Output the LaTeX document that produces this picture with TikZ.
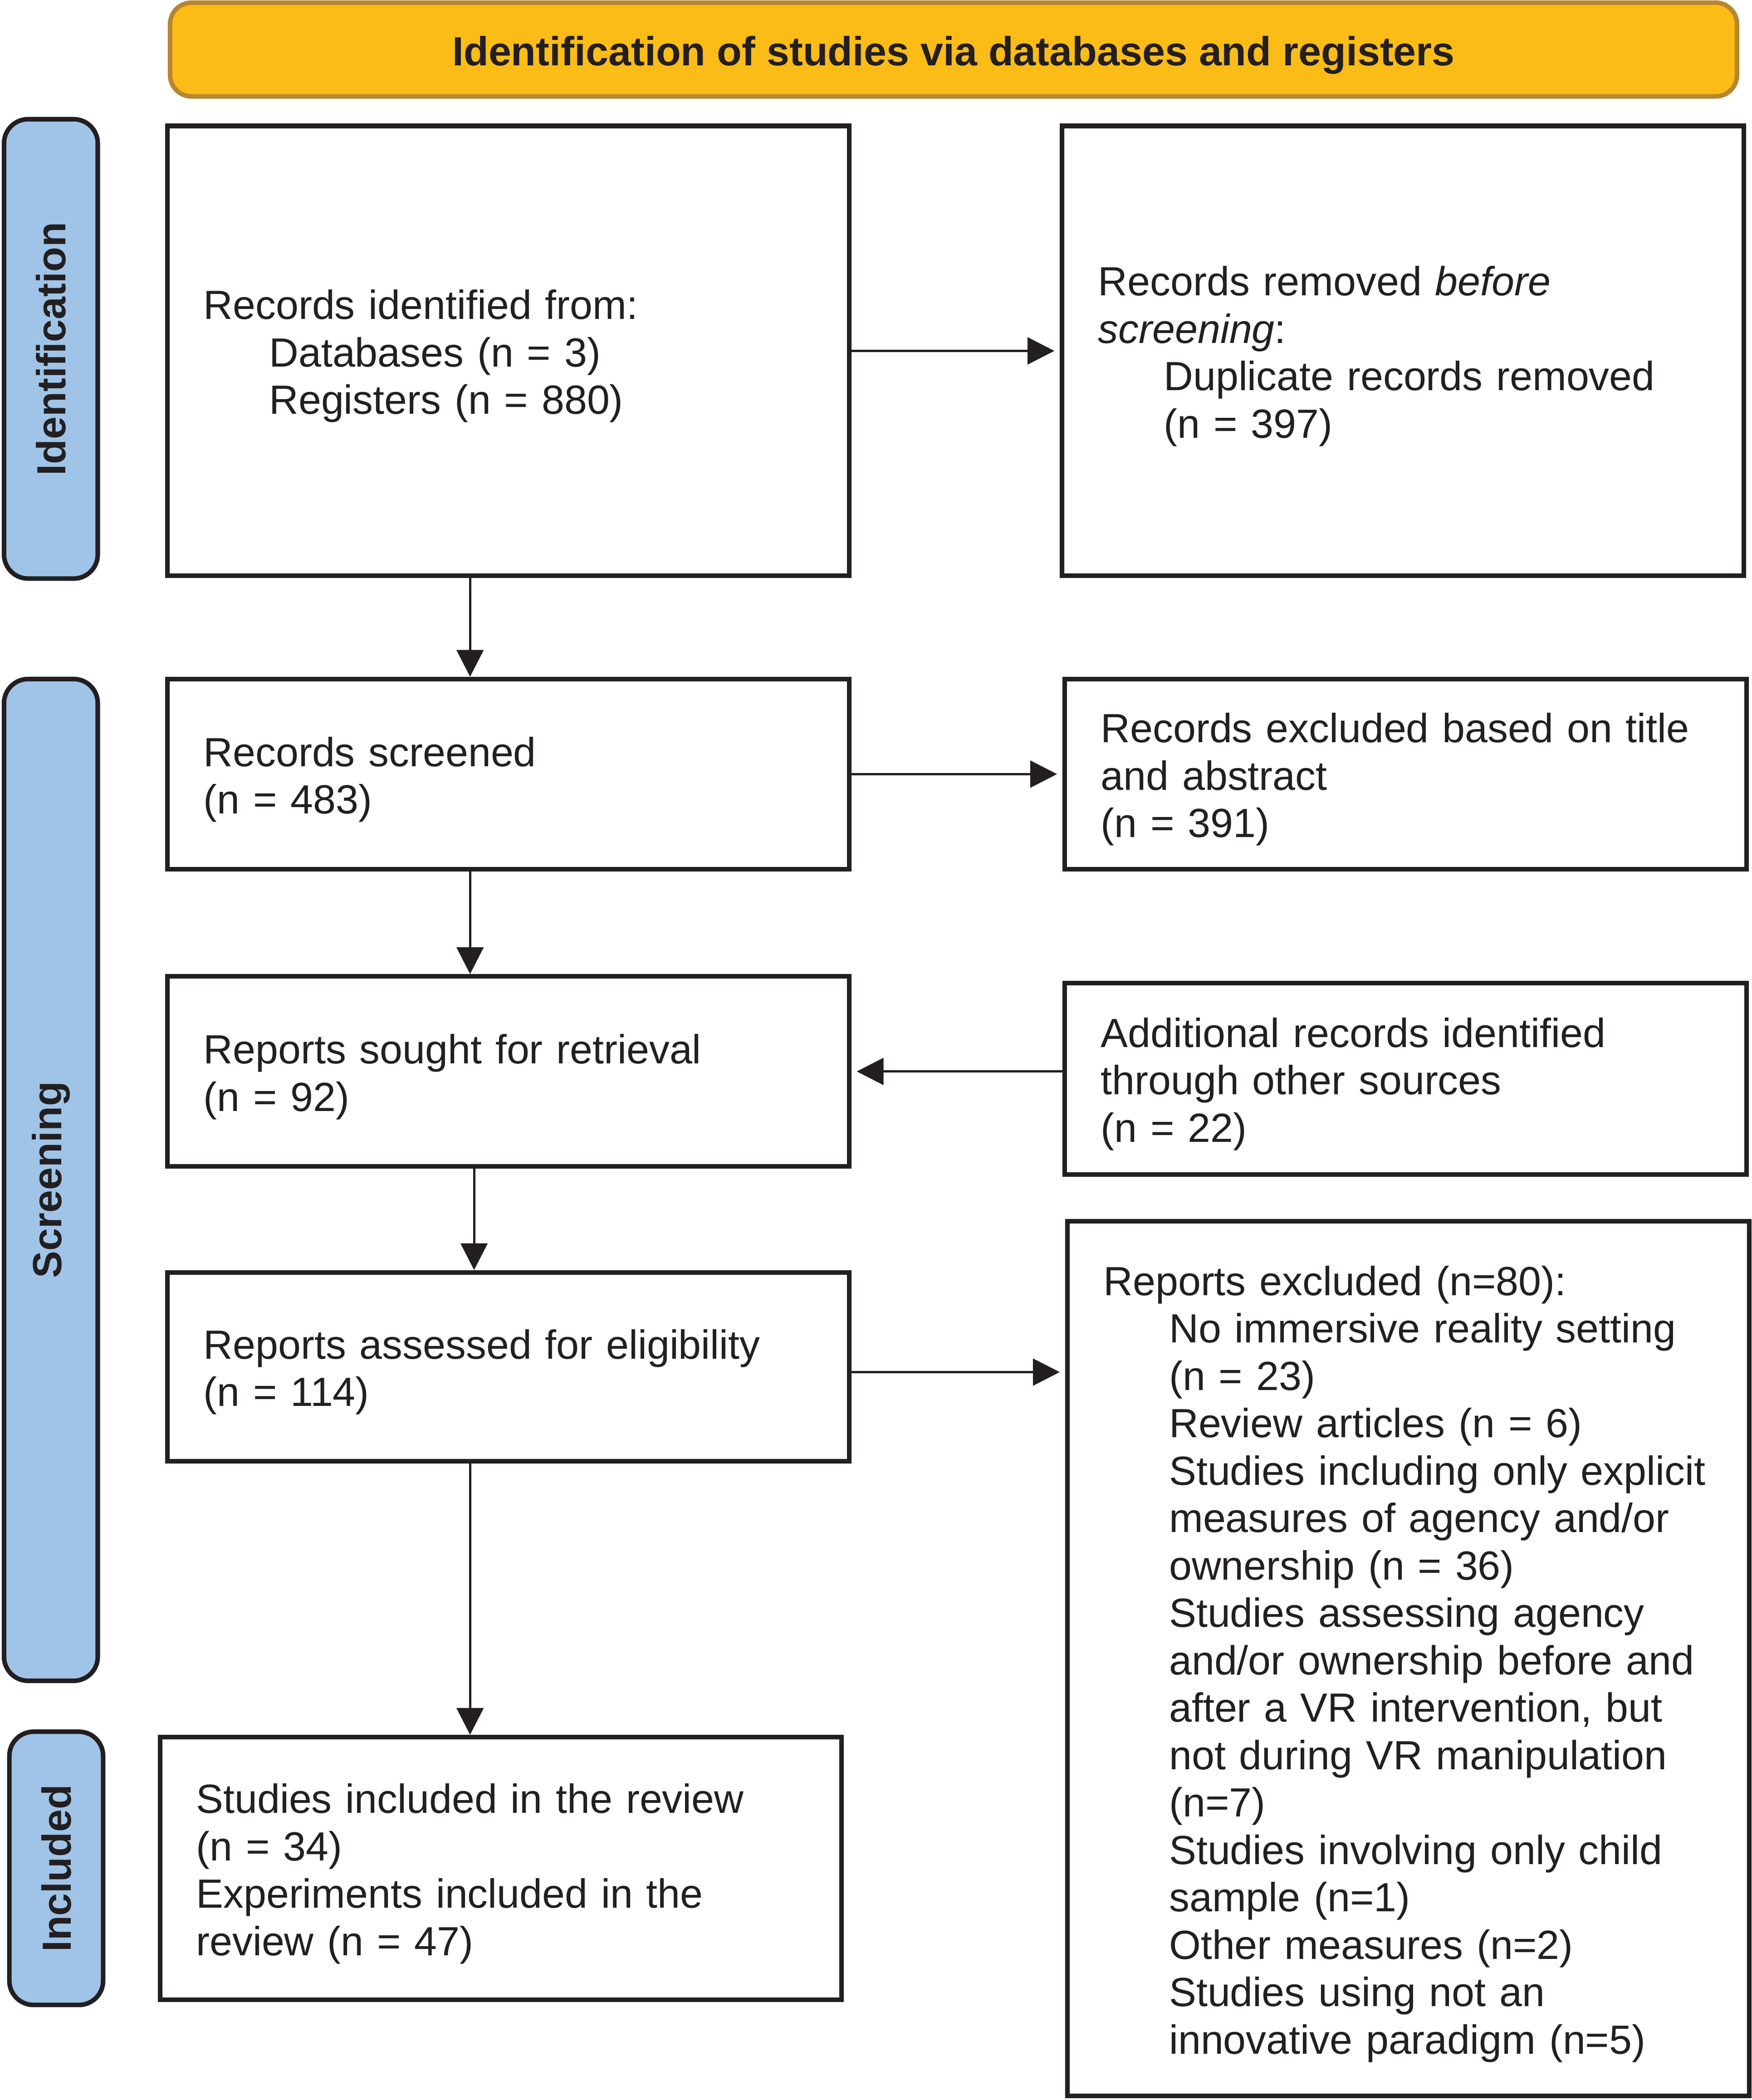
\documentclass[tikz,border=0pt]{standalone}
\usepackage{fontspec}
\setmainfont{Liberation Sans}
\usetikzlibrary{arrows.meta}

\definecolor{ink}{HTML}{231F20}
\definecolor{banner}{HTML}{FBBC18}
\definecolor{bannerline}{HTML}{B8862E}
\definecolor{phase}{HTML}{9FC4E7}
\newcommand{\prismafont}{\fontsize{15.2}{17.7}\selectfont}
\newcommand{\ind}{\hspace*{24.5pt}}

\tikzset{
  box/.style={draw=ink, line width=1.7pt, text=ink, text width=227.5pt,
    inner xsep=13.5pt, align=left, font=\prismafont,
    execute at begin node={\rule{0pt}{15pt}}},
  phasebar/.style={draw=ink, fill=phase, line width=1.7pt, rounded corners=9pt,
    rotate=90, minimum height=35pt, text=ink, font=\prismafont\bfseries},
  arr/.style={-{Triangle[length=10pt,width=10pt]}, line width=0.85pt, draw=ink},
  harr/.style={arr, shorten >=2pt}
}

\begin{document}
\begin{tikzpicture}[x=0.5pt,y=-0.5pt]
\useasboundingbox (0,0) rectangle (1308,1568);

% banner and phases
\node[draw=bannerline, fill=banner, line width=1.7pt, rounded corners=8pt,
  minimum width=585pt, minimum height=35pt, text height=15pt, text depth=3pt,
  text=ink, font=\prismafont\bfseries]
  (banner) at (712,37) {Identification of studies via databases and registers};
\node[phasebar, minimum width=171.5pt] (phaseid) at (38,260.5) {Identification};
\node[phasebar, minimum width=374pt] (phasescr) at (38,881) {Screening};
\node[phasebar, minimum width=102pt] (phaseinc) at (42,1395) {Included};

% boxes
\node[box, minimum height=168pt] (identified) at (379.5,262)
  {Records identified from:\\ \ind Databases (n = 3)\\ \ind Registers (n = 880)};
\node[box, minimum height=168pt] (removed) at (1047.5,262)
  {Records removed \textit{before}\\ \textit{screening}:\\ \ind Duplicate records removed\\ \ind (n = 397)};
\node[box, minimum height=71pt] (screened) at (379.5,578)
  {Records screened\\ (n = 483)};
\node[box, minimum height=71pt] (excluded) at (1049.5,578)
  {Records excluded based on title\\ and abstract\\ (n = 391)};
\node[box, minimum height=71pt] (sought) at (379.5,800)
  {Reports sought for retrieval\\ (n = 92)};
\node[box, minimum height=71.5pt] (additional) at (1049.5,805.5)
  {Additional records identified\\ through other sources\\ (n = 22)};
\node[box, minimum height=70.5pt] (assessed) at (379.5,1020.5)
  {Reports assessed for eligibility\\ (n = 114)};
\node[box, minimum height=326.5pt] (reportsexcl) at (1051.5,1238.5)
  {Reports excluded (n=80):\\
   \ind No immersive reality setting\\
   \ind (n = 23)\\
   \ind Review articles (n = 6)\\
   \ind Studies including only explicit\\
   \ind measures of agency and/or\\
   \ind ownership (n = 36)\\
   \ind Studies assessing agency\\
   \ind and/or ownership before and\\
   \ind after a VR intervention, but\\
   \ind not during VR manipulation\\
   \ind (n=7)\\
   \ind Studies involving only child\\
   \ind sample (n=1)\\
   \ind Other measures (n=2)\\
   \ind Studies using not an\\
   \ind innovative paradigm (n=5)};
\node[box, minimum height=98pt] (included) at (374,1395)
  {Studies included in the review\\ (n = 34)\\ Experiments included in the\\ review (n = 47)};

% arrows
\draw[harr] (identified.east) -- (removed.west);
\draw[arr] ([xshift=-14.25pt]identified.south) -- ([xshift=-14.25pt]screened.north);
\draw[harr] (screened.east) -- (excluded.west);
\draw[arr] ([xshift=-14.25pt]screened.south) -- ([xshift=-14.25pt]sought.north);
\draw[harr] (additional.west |- sought.east) -- (sought.east);
\draw[arr] ([xshift=-12.75pt]sought.south) -- ([xshift=-12.75pt]assessed.north);
\draw[harr] ([yshift=-2pt]assessed.east) -- ([yshift=-2pt]assessed.east -| reportsexcl.west);
\draw[arr] ([xshift=-14.25pt]assessed.south) -- ([xshift=-14.25pt]assessed.south |- included.north);

\end{tikzpicture}
\end{document}
